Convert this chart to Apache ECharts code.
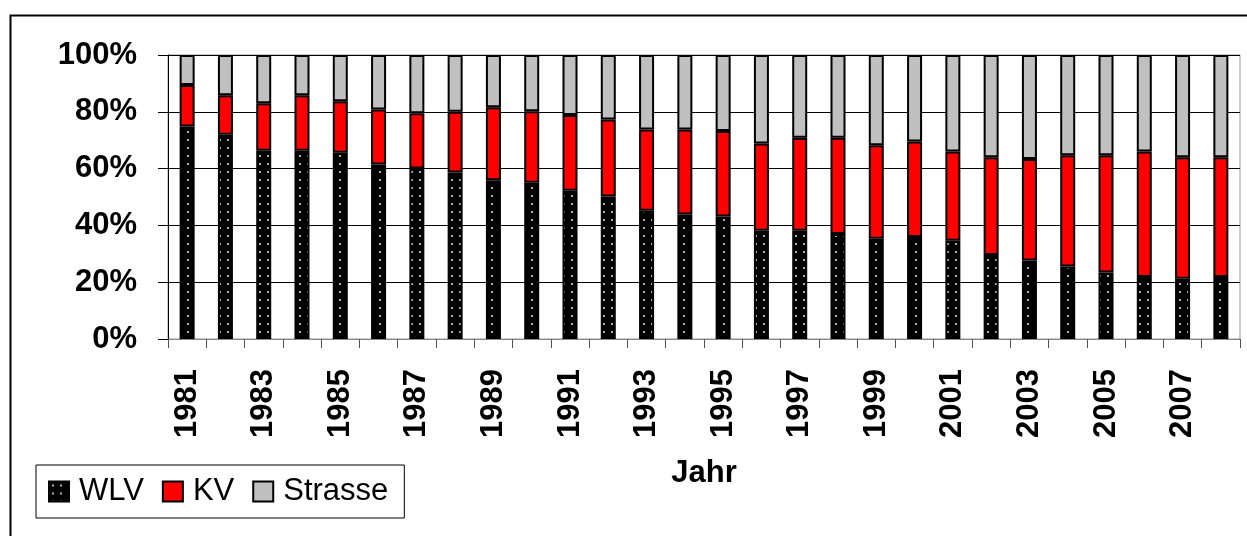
<!DOCTYPE html>
<html>
<head>
<meta charset="utf-8">
<script src="https://cdn.jsdelivr.net/npm/echarts@6/dist/echarts.min.js"></script>
<style>
  html, body { margin: 0; padding: 0; background: #fff; }
  #chart { width: 1247px; height: 536px; }
</style>
</head>
<body>
<div id="chart"></div>
<script>
// Modal split shares (percent of total) per year
const years = ['1981','1982','1983','1984','1985','1986','1987','1988','1989','1990',
  '1991','1992','1993','1994','1995','1996','1997','1998','1999','2000',
  '2001','2002','2003','2004','2005','2006','2007','2008'];
const wlv = [74.8, 71.9, 66.3, 66.3, 65.6, 61.4, 60.0, 58.6, 55.9, 55.0,
  52.2, 50.2, 45.2, 43.8, 43.1, 38.1, 38.1, 37.0, 35.3, 35.9,
  34.6, 29.6, 27.6, 25.5, 23.4, 21.8, 21.2, 21.8];
const kv = [14.6, 13.9, 16.7, 19.5, 18.1, 19.4, 19.5, 21.4, 25.7, 25.2,
  26.7, 27.1, 28.6, 30.0, 30.1, 30.7, 32.8, 33.9, 32.9, 33.6,
  31.4, 34.4, 35.8, 39.2, 41.3, 44.2, 42.8, 42.2];
const strasse = [10.6, 14.2, 17.0, 14.2, 16.3, 19.2, 20.5, 20.0, 18.4, 19.8,
  21.1, 22.7, 26.2, 26.2, 26.8, 31.2, 29.1, 29.1, 31.8, 30.5,
  34.0, 36.0, 36.6, 35.3, 35.3, 34.0, 36.0, 36.0];
const yTicks = [0, 20, 40, 60, 80, 100];

// Black fill with small light dots
function dotPattern() {
  const c = document.createElement('canvas');
  c.width = 8; c.height = 8;
  const g = c.getContext('2d');
  g.fillStyle = '#000';
  g.fillRect(0, 0, 8, 8);
  g.fillStyle = '#d8d8d8';
  g.beginPath();
  g.arc(4, 4, 1.1, 0, Math.PI * 2);
  g.fill();
  return c;
}

const FONT = "'Liberation Sans', Arial, sans-serif";
const chart = echarts.init(document.getElementById('chart'), null, { renderer: 'canvas' });

const barStyle = (fill) => ({ color: fill, borderColor: '#000', borderWidth: 2 });

chart.setOption({
  animation: false,
  backgroundColor: '#fff',
  textStyle: { fontFamily: FONT },
  graphic: [{
    type: 'rect',
    left: 8, top: 13,
    shape: { width: 1260, height: 540 },
    style: { fill: 'none', stroke: '#000', lineWidth: 2 },
    z: 100
  }],
  grid: {
    left: 168, right: 7, top: 55, bottom: 197,
    show: true, borderColor: '#999', borderWidth: 1, containLabel: false
  },
  legend: {
    left: 36, top: 465,
    orient: 'horizontal',
    padding: [11, 16, 11, 12],
    itemWidth: 20, itemHeight: 20, itemGap: 18,
    borderColor: '#000', borderWidth: 1,
    icon: 'rect',
    textStyle: { fontFamily: FONT, fontSize: 31, color: '#000', padding: [0, 0, 0, 5] },
    data: ['WLV', 'KV', 'Strasse']
  },
  xAxis: {
    type: 'category',
    data: years,
    name: 'Jahr',
    nameLocation: 'middle',
    nameGap: 119,
    nameTextStyle: { fontFamily: FONT, fontSize: 31, fontWeight: 'bold', color: '#000' },
    axisLine: { lineStyle: { color: '#888', width: 1 } },
    axisTick: { show: true, interval: 0, length: 9, lineStyle: { color: '#555' } },
    axisLabel: {
      interval: 1, rotate: 90, margin: 30,
      fontFamily: FONT, fontSize: 31, fontWeight: 'bold', color: '#000'
    },
    splitLine: { show: false }
  },
  yAxis: {
    type: 'value',
    min: yTicks[0], max: yTicks[yTicks.length - 1], interval: 20,
    axisLine: { show: true, lineStyle: { color: '#000', width: 1 } },
    axisTick: { show: true, inside: false, length: 10, lineStyle: { color: '#000' } },
    axisLabel: {
      margin: 31, formatter: '{value}%',
      fontFamily: FONT, fontSize: 31, fontWeight: 'bold', color: '#000'
    },
    splitLine: { show: true, lineStyle: { color: '#000', width: 1 } }
  },
  series: [
    { name: 'WLV', type: 'bar', stack: 'total', barWidth: 15, data: wlv,
      itemStyle: barStyle({ image: dotPattern(), repeat: 'repeat' }) },
    { name: 'KV', type: 'bar', stack: 'total', barWidth: 15, data: kv,
      itemStyle: barStyle('#ff0000') },
    { name: 'Strasse', type: 'bar', stack: 'total', barWidth: 15, data: strasse,
      itemStyle: barStyle('#c0c0c0') }
  ]
});
</script>
</body>
</html>
